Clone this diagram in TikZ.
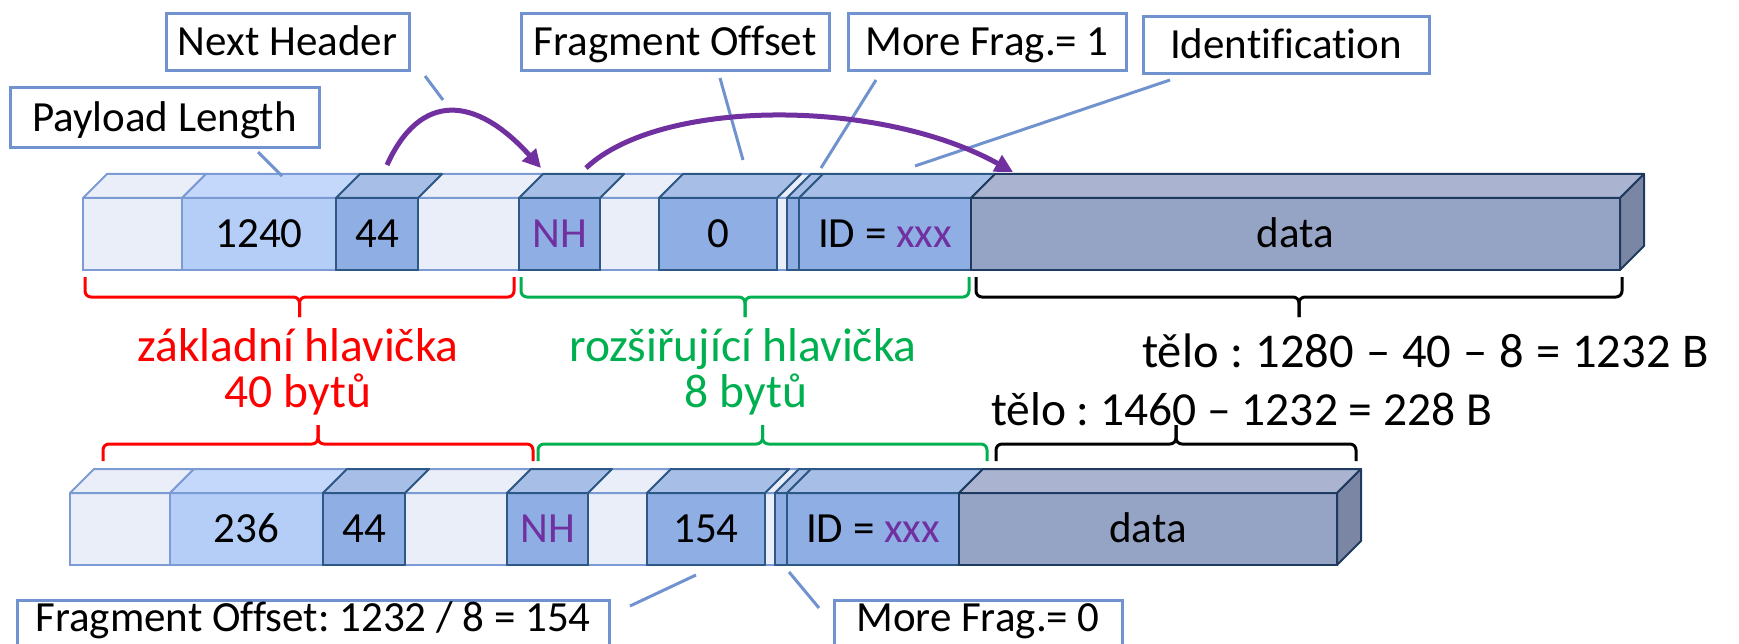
\documentclass[tikz,border=0pt]{standalone}
\usepackage{fontspec}
\setmainfont{Carlito}[Ligatures=NoCommon]
\usetikzlibrary{calc,arrows.meta}
\frenchspacing

\definecolor{lightfill}{HTML}{E9EEF8}
\definecolor{lightedge}{HTML}{7C9BD4}
\definecolor{plfill}{HTML}{B4CEF8}
\definecolor{pltop}{HTML}{C3D8FA}
\definecolor{medfill}{HTML}{8FAEE3}
\definecolor{medtop}{HTML}{A7BFE7}
\definecolor{darkedge}{HTML}{2D5784}
\definecolor{datafill}{HTML}{95A4C4}
\definecolor{datatop}{HTML}{AAB4D0}
\definecolor{dataside}{HTML}{7A86A4}
\definecolor{dataedge}{HTML}{1E3A5F}
\definecolor{calloutedge}{HTML}{7092CE}
\definecolor{nhpurple}{HTML}{7030A0}
\definecolor{hdrred}{HTML}{FF0000}
\definecolor{exgreen}{HTML}{00B050}

\newcommand{\fldfont}{\fontsize{43}{51}\selectfont}
\newcommand{\lblfont}{\fontsize{47.5}{56}\selectfont}

% one header field drawn as a flat cuboid: front face node plus top face
% #1 name, #2 left x, #3 right x, #4 top y, #5 face fill, #6 top fill, #7 edge, #8 text
\newcommand{\fieldbox}[8]{%
  \pgfmathsetmacro\fbw{#3-#2}%
  \node[fieldface, fill=#5, draw=#7, minimum width=\fbw pt] (#1) at (#2,#4) {#8};
  \filldraw[fill=#6, draw=#7, fieldedge] (#1.north west) -- ++(24,-24)
    -- ($(#1.north east)+(24,-24)$) -- (#1.north east) -- cycle;
}

% curly bracket made of straight pieces with rounded corners
% #1 colour, #2 left x, #3 right x, #4 y of the ends, #5 y of the bar, #6 y of the tip
\newcommand{\segbrace}[6]{%
  \pgfmathsetmacro\bmid{(#2+#3)/2}%
  \draw[bracestyle, #1] (#2,#4) -- (#2,#5) -- (\bmid,#5) -- (\bmid,#6);
  \draw[bracestyle, #1] (#3,#4) -- (#3,#5) -- (\bmid,#5) -- (\bmid,#6);
}

\tikzset{
  fieldface/.style={rectangle, anchor=north west, inner sep=0pt, outer sep=0pt,
    minimum height=72pt, line width=2pt, font=\fldfont, text height=27pt, text depth=0pt},
  fieldedge/.style={line width=2pt, line join=round},
  callout/.style={rectangle, draw=calloutedge, fill=white, line width=3pt,
    inner sep=0pt, outer sep=0pt, font=\fldfont, text height=27pt, text depth=0pt},
  lowcallout/.style={callout, minimum height=64pt, text depth=29pt},
  leader/.style={draw=calloutedge, line width=3pt},
  hop/.style={draw=nhpurple, line width=5pt, -{Triangle[length=18pt,width=18pt]}},
  bracestyle/.style={line width=3pt, rounded corners=6pt},
  biglabel/.style={font=\lblfont, inner sep=0pt},
}

\begin{document}
\begin{tikzpicture}[x=1pt, y=-1pt]
\clip (0,0) rectangle (1739,644);

% ---------- first fragment ----------
\fieldbox{a1}{83}{182}{198}{lightfill}{lightfill}{lightedge}{}
\fieldbox{a2}{182}{336}{198}{plfill}{pltop}{lightedge}{1240}
\fieldbox{a4}{418}{519}{198}{lightfill}{lightfill}{lightedge}{}
\fieldbox{a6}{600}{659}{198}{lightfill}{lightfill}{lightedge}{}
\fieldbox{a8}{777}{787}{198}{lightfill}{lightfill}{lightedge}{}
\fieldbox{a3}{336}{418}{198}{medfill}{medtop}{darkedge}{44}
\fieldbox{a5}{519}{600}{198}{medfill}{medtop}{darkedge}{\textcolor{nhpurple}{NH}}
\fieldbox{a7}{659}{777}{198}{medfill}{medtop}{darkedge}{0}
\fieldbox{a9}{787}{799}{198}{medfill}{medtop}{darkedge}{}
\fieldbox{a10}{799}{971}{198}{medfill}{medtop}{darkedge}{ID = \textcolor{nhpurple}{xxx}}
\fieldbox{adata}{971}{1620}{198}{datafill}{datatop}{dataedge}{data}
\filldraw[fill=dataside, draw=dataedge, fieldedge] (adata.north east) -- ++(24,-24)
  -- ++(0,72) -- (adata.south east) -- cycle;

% ---------- second fragment ----------
\fieldbox{b1}{70}{170}{493}{lightfill}{lightfill}{lightedge}{}
\fieldbox{b2}{170}{323}{493}{plfill}{pltop}{lightedge}{236}
\fieldbox{b4}{405}{507}{493}{lightfill}{lightfill}{lightedge}{}
\fieldbox{b6}{588}{647}{493}{lightfill}{lightfill}{lightedge}{}
\fieldbox{b8}{765}{775}{493}{lightfill}{lightfill}{lightedge}{}
\fieldbox{b3}{323}{405}{493}{medfill}{medtop}{darkedge}{44}
\fieldbox{b5}{507}{588}{493}{medfill}{medtop}{darkedge}{\textcolor{nhpurple}{NH}}
\fieldbox{b7}{647}{765}{493}{medfill}{medtop}{darkedge}{154}
\fieldbox{b9}{775}{787}{493}{medfill}{medtop}{darkedge}{}
\fieldbox{b10}{787}{959}{493}{medfill}{medtop}{darkedge}{ID = \textcolor{nhpurple}{xxx}}
\fieldbox{bdata}{959}{1337}{493}{datafill}{datatop}{dataedge}{data}
\filldraw[fill=dataside, draw=dataedge, fieldedge] (bdata.north east) -- ++(24,-24)
  -- ++(0,72) -- (bdata.south east) -- cycle;

% ---------- brackets ----------
\segbrace{hdrred}{85}{514}{277}{297}{317}
\segbrace{exgreen}{521}{969}{277}{297}{317}
\segbrace{black}{976}{1622}{277}{297}{317}
\segbrace{hdrred}{103}{533}{461}{444}{425}
\segbrace{exgreen}{538}{987}{461}{444}{425}
\segbrace{black}{996}{1356}{461}{444}{425}

% ---------- bracket labels ----------
\node[biglabel, anchor=base, text=hdrred] (zh1) at (298,361) {základní hlavička};
\node[biglabel, anchor=base, text=hdrred] (zh2) at (298,407) {40 bytů};
\node[biglabel, anchor=base, text=exgreen] (rh1) at (743,361) {rozšiřující hlavička};
\node[biglabel, anchor=base, text=exgreen] (rh2) at (746,407) {8 bytů};
\node[biglabel, anchor=base west, font=\fontsize{48.5}{56}\selectfont] (body1) at (1142,367)
  {\spaceskip=12pt plus 2pt minus 1pt tělo : 1280 – 40 – 8 = 1232 B};
\node[biglabel, anchor=base west] (body2) at (991,425) {tělo : 1460 – 1232 = 228 B};

% ---------- callouts ----------
\node[callout, minimum width=309pt, minimum height=60pt] (payload) at (164.5,118) {Payload Length};
\node[callout, minimum width=243pt, minimum height=57pt] (nexthdr) at (287.5,42.5) {Next Header};
\node[callout, minimum width=308pt, minimum height=57pt] (fragoff) at (675,42.5) {Fragment Offset};
\node[callout, minimum width=278pt, minimum height=57pt] (mf1) at (987,42.5) {More Frag.= 1};
\node[callout, minimum width=286pt, minimum height=57pt] (ident) at (1286,45.5) {Identification};
\node[lowcallout, minimum width=592pt] (fragcalc) at (313,632) {Fragment Offset: 1232 / 8 = 154};
\node[lowcallout, minimum width=288pt] (mf0) at (978,632) {More Frag.= 0};

% leader lines
\coordinate (plA) at (258,152);  \coordinate (plB) at (282,176);
\coordinate (nhA) at (425,76);   \coordinate (nhB) at (443,100);
\coordinate (foA) at (720,78);   \coordinate (foB) at (743,160);
\coordinate (mfA) at (876,80);   \coordinate (mfB) at (821,168);
\coordinate (idA) at (1170,80);  \coordinate (idB) at (915,166);
\coordinate (fcA) at (696,575);  \coordinate (fcB) at (630,606);
\coordinate (m0A) at (789,572);  \coordinate (m0B) at (819,608);
\draw[leader] (plA) -- (plB);
\draw[leader] (nhA) -- (nhB);
\draw[leader] (foA) -- (foB);
\draw[leader] (mfA) -- (mfB);
\draw[leader] (idA) -- (idB);
\draw[leader] (fcA) -- (fcB);
\draw[leader] (m0A) -- (m0B);

% next-header chain
\coordinate (h1) at (387,165);
\coordinate (h2) at (541,168);
\coordinate (h3) at (586,168);
\coordinate (h4) at (1013,172);
\draw[hop] (h1) .. controls (420,92) and (475,95) .. (h2);
\draw[hop] (h3) .. controls (660,98) and (880,98) .. (h4);
\end{tikzpicture}
\end{document}
